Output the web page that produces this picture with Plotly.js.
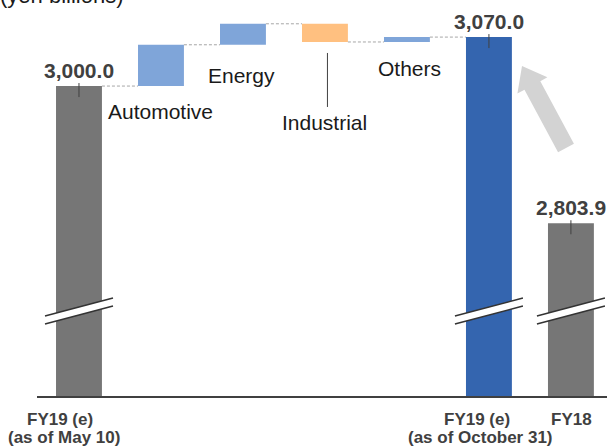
<!DOCTYPE html>
<html>
<head>
<meta charset="utf-8">
<script src="https://cdn.plot.ly/plotly-3.0.1.min.js"></script>
<style>html,body{margin:0;padding:0;background:#fff;}#chart{width:607px;height:448px;}</style>
</head>
<body>
<div id="chart"></div>
<script>
// ---------- data ----------
const categories = ['FY19 (e)', 'Automotive', 'Energy', 'Industrial', 'Others', 'FY19 (e)', 'FY18'];
const subLabels = ['(as of May 10)', '', '', '', '', '(as of October 31)', ''];
const startTotal = 3000.0;            // FY19 (e) as of May 10
const changeCats = ['Automotive', 'Energy', 'Industrial', 'Others'];
const changeValues = [59, 30, -26, 7];
const endTotal = 3070.0;              // FY19 (e) as of October 31
const prevYear = 2803.9;              // FY18
const unitLabel = '(yen billions)';

// ---------- geometry / styles ----------
const L = 37, PW = 570, PH = 396;
const X0 = -0.512, X1 = 6.44, Y0 = 2557, Y1 = 3123;
const pxX = PW / (X1 - X0), pxY = PH / (Y1 - Y0);
const xAt = px => X0 + (px - L) / pxX;
const yAt = py => Y1 - py / pxY;
const BW = 0.56;
const GRAY = '#767676', LBLUE = '#7FA5D9', ORANGE = '#FFC080', DBLUE = '#3465AF';
const DARK = '#404040';
const FONT = 'Liberation Sans, Arial, sans-serif';

const idx = c => categories.indexOf(c);
const fmt = v => v.toLocaleString('en-US', {minimumFractionDigits: 1, maximumFractionDigits: 1});
const iStart = 0, iEnd = 5, iPrev = 6;

// floating bars
let running = startTotal;
const incX = [], incBase = [], incH = [], decX = [], decBase = [], decH = [];
const connX = [], connY = [];
connX.push(iStart + BW / 2, idx(changeCats[0]) - BW / 2, null);
connY.push(running, running, null);
const bottoms = {};
changeCats.forEach((c, k) => {
  const v = changeValues[k];
  const i = idx(c);
  const base = v >= 0 ? running : running + v;
  if (v >= 0) { incX.push(i); incBase.push(base); incH.push(Math.abs(v)); }
  else { decX.push(i); decBase.push(base); decH.push(Math.abs(v)); }
  bottoms[c] = base;
  running += v;
  const next = (k + 1 < changeCats.length) ? idx(changeCats[k + 1]) : iEnd;
  connX.push(i + BW / 2, next - BW / 2, null);
  connY.push(running, running, null);
});

const traces = [
  {type: 'bar', x: [iStart, iPrev], y: [startTotal, prevYear], width: BW, marker: {color: GRAY}, hoverinfo: 'skip'},
  {type: 'bar', x: [iEnd], y: [endTotal], width: BW, marker: {color: DBLUE}, hoverinfo: 'skip'},
  {type: 'bar', x: incX, y: incH, base: incBase, width: BW, marker: {color: LBLUE}, hoverinfo: 'skip'},
  {type: 'bar', x: decX, y: decH, base: decBase, width: BW, marker: {color: ORANGE}, hoverinfo: 'skip'},
  {type: 'scatter', mode: 'lines', x: connX, y: connY, line: {color: '#A6A6A6', width: 1, dash: '3px,2px'}, hoverinfo: 'skip'}
];

const shapes = [];
const annotations = [];

// total labels + leader ticks + axis break marks
[[iStart, startTotal], [iEnd, endTotal], [iPrev, prevYear]].forEach(([i, v]) => {
  annotations.push({x: i, y: v, xref: 'x', yref: 'y', text: '<b>' + fmt(v) + '</b>', showarrow: false,
    yanchor: 'middle', yshift: 16, font: {family: FONT, size: 21, color: DARK}});
  shapes.push({type: 'line', xref: 'x', yref: 'y', x0: i, x1: i, y0: v + 3 / pxY, y1: v - 11 / pxY,
    line: {color: DARK, width: 1}});
  const dx = 34 / pxX;
  const yTopL = yAt(316), yTopR = yAt(298), yBotL = yAt(324), yBotR = yAt(306);
  shapes.push({type: 'path', xref: 'x', yref: 'y',
    path: `M${i - dx},${yTopL} L${i + dx},${yTopR} L${i + dx},${yBotR} L${i - dx},${yBotL} Z`,
    fillcolor: '#ffffff', line: {width: 0}});
  shapes.push({type: 'line', xref: 'x', yref: 'y', x0: i - dx, x1: i + dx, y0: yTopL, y1: yTopR, line: {color: '#333333', width: 1.5}});
  shapes.push({type: 'line', xref: 'x', yref: 'y', x0: i - dx, x1: i + dx, y0: yBotL, y1: yBotR, line: {color: '#333333', width: 1.5}});
});

// category labels for changes (offset below each bar bottom, px)
const catShift = {'Automotive': -25, 'Energy': -31, 'Industrial': -81, 'Others': -27};
const catXShift = {'Automotive': 0, 'Energy': -1, 'Industrial': 0, 'Others': 3};
changeCats.forEach(c => {
  annotations.push({x: idx(c), y: bottoms[c], xref: 'x', yref: 'y', text: c, showarrow: false,
    yanchor: 'middle', yshift: catShift[c], xshift: catXShift[c], font: {family: FONT, size: 21, color: '#1a1a1a'}});
});
// Industrial leader line
shapes.push({type: 'line', xref: 'x', yref: 'y', x0: idx('Industrial') + 2.5 / pxX, x1: idx('Industrial') + 2.5 / pxX,
  y0: bottoms['Industrial'] - 11 / pxY, y1: bottoms['Industrial'] - 65 / pxY, line: {color: DARK, width: 1}});

// bottom axis labels
const mainShift = {0: -19, 5: -12, 6: 1};
const subShift = {0: -15, 5: -8, 6: 0};
[iStart, iEnd, iPrev].forEach(i => {
  annotations.push({x: i, y: 1 - 419 / PH, xref: 'x', yref: 'paper', text: '<b>' + categories[i] + '</b>', showarrow: false,
    yanchor: 'middle', xshift: mainShift[i], font: {family: FONT, size: 17, color: DARK}});
  if (subLabels[i]) {
    annotations.push({x: i, y: 1 - 438 / PH, xref: 'x', yref: 'paper', text: '<b>' + subLabels[i] + '</b>', showarrow: false,
      yanchor: 'middle', xshift: subShift[i], font: {family: FONT, size: 17, color: DARK}});
  }
});

// unit label (mostly cut off at top, as in the original)
annotations.push({x: (-2 - L) / PW, y: 1 + 5 / PH, xref: 'paper', yref: 'paper', text: unitLabel, showarrow: false,
  xanchor: 'left', yanchor: 'middle', font: {family: FONT, size: 22, color: '#1a1a1a'}});

// big gray arrow
(function () {
  const tail = [566, 148], tip = [522, 66];
  const dxp = tip[0] - tail[0], dyp = tip[1] - tail[1];
  const len = Math.hypot(dxp, dyp);
  const d = [dxp / len, dyp / len], n = [-d[1], d[0]];
  const sw = 9, hw = 17, hl = 22;
  const hb = [tip[0] - d[0] * hl, tip[1] - d[1] * hl];
  const pts = [
    [tail[0] + n[0] * sw, tail[1] + n[1] * sw],
    [hb[0] + n[0] * sw, hb[1] + n[1] * sw],
    [hb[0] + n[0] * hw, hb[1] + n[1] * hw],
    tip,
    [hb[0] - n[0] * hw, hb[1] - n[1] * hw],
    [hb[0] - n[0] * sw, hb[1] - n[1] * sw],
    [tail[0] - n[0] * sw, tail[1] - n[1] * sw]
  ];
  const path = pts.map((p, k) => (k ? 'L' : 'M') + xAt(p[0]) + ',' + yAt(p[1])).join(' ') + ' Z';
  shapes.push({type: 'path', xref: 'x', yref: 'y', path: path, fillcolor: '#D3D3D3', line: {width: 0}});
})();

const layout = {
  width: 607, height: 448,
  margin: {l: L, r: 0, t: 0, b: 52},
  paper_bgcolor: '#ffffff', plot_bgcolor: '#ffffff',
  showlegend: false, barmode: 'overlay',
  xaxis: {range: [X0, X1], showline: true, linecolor: DARK, linewidth: 2, showticklabels: false,
    ticks: '', showgrid: false, zeroline: false, fixedrange: true},
  yaxis: {range: [Y0, Y1], visible: false, showgrid: false, zeroline: false, fixedrange: true},
  shapes: shapes, annotations: annotations
};

Plotly.newPlot('chart', traces, layout, {staticPlot: true, displayModeBar: false});
</script>
</body>
</html>
